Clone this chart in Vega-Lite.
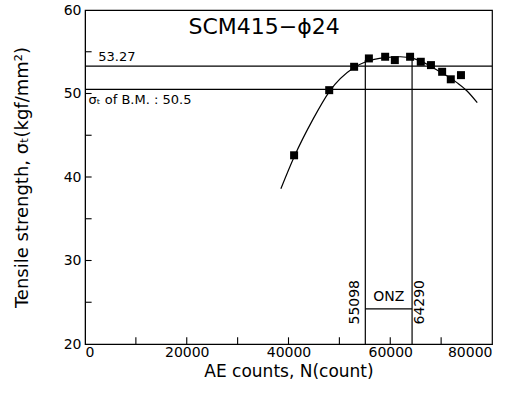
{
  "$schema": "https://vega.github.io/schema/vega-lite/v6.json",
  "width": 407,
  "height": 334,
  "autosize": "none",
  "padding": {"left": 85, "top": 10, "right": 26, "bottom": 55},
  "background": "white",
  "config": {
    "view": {"stroke": "black", "strokeWidth": 1.2},
    "font": "DejaVu Sans",
    "axis": {
      "grid": false,
      "ticks": false,
      "domainColor": "black",
      "labelColor": "black",
      "titleColor": "black",
      "labelFont": "DejaVu Sans",
      "titleFont": "DejaVu Sans",
      "labelFontSize": 14,
      "titleFontSize": 18,
      "titleFontWeight": "normal"
    }
  },
  "datasets": {
    "points": [
      {"x": 41100, "y": 42.6},
      {"x": 48000, "y": 50.4},
      {"x": 52900, "y": 53.2},
      {"x": 55800, "y": 54.2},
      {"x": 59000, "y": 54.4},
      {"x": 60900, "y": 54.0},
      {"x": 63900, "y": 54.4},
      {"x": 66000, "y": 53.8},
      {"x": 68000, "y": 53.4},
      {"x": 70200, "y": 52.6},
      {"x": 71900, "y": 51.7},
      {"x": 73900, "y": 52.2}
    ],
    "curve": [
      {"x": 38500, "y": 38.6},
      {"x": 41100, "y": 42.4},
      {"x": 44800, "y": 46.9},
      {"x": 48000, "y": 50.2},
      {"x": 52900, "y": 53.1},
      {"x": 55200, "y": 53.8},
      {"x": 59000, "y": 54.3},
      {"x": 62000, "y": 54.4},
      {"x": 64500, "y": 54.2},
      {"x": 69800, "y": 52.6},
      {"x": 73100, "y": 51.3},
      {"x": 75100, "y": 50.3},
      {"x": 77100, "y": 48.9}
    ],
    "hlines": [{"y": 53.27}, {"y": 50.5}],
    "vlines": [{"x": 55098, "y": 20, "y2": 54}, {"x": 64290, "y": 20, "y2": 54}],
    "onz": [{"x": 55098, "x2": 64290, "y": 24.2}],
    "xticks": [{"x": 10000}, {"x": 20000}, {"x": 30000}, {"x": 40000}, {"x": 50000}, {"x": 60000}, {"x": 70000}],
    "yticks": [{"y": 25}, {"y": 30}, {"y": 35}, {"y": 40}, {"y": 45}, {"y": 50}, {"y": 55}],
    "title": [{"x": 35200, "y": 58.0, "label": "SCM415−ϕ24"}],
    "notes": [
      {"x": 2600, "y": 54.4, "label": "53.27"},
      {"x": 700, "y": 49.2, "label": "σₜ of B.M. : 50.5"}
    ],
    "rot": [
      {"x": 53100, "y": 25.0, "label": "55098"},
      {"x": 65900, "y": 25.0, "label": "64290"}
    ],
    "onzlabel": [{"x": 59694, "y": 25.6, "label": "ONZ"}]
  },
  "layer": [
    {
      "data": {"name": "points"},
      "mark": {"type": "square", "size": 64, "color": "black", "opacity": 1, "filled": true},
      "encoding": {
        "x": {"field": "x", "type": "quantitative", "scale": {"domain": [0, 80000], "nice": false},
          "axis": {"values": [0, 20000, 40000, 60000, 80000], "title": "AE counts, N(count)", "format": "d", "labelPadding": 1, "titlePadding": 4, "titleFontSize": 17}},
        "y": {"field": "y", "type": "quantitative", "scale": {"domain": [20, 60], "nice": false, "zero": false},
          "axis": {"values": [20, 30, 40, 50, 60], "title": "Tensile strength, σₜ(kgf/mm²)", "labelPadding": 4, "titlePadding": 32}}
      }
    },
    {
      "data": {"name": "curve"},
      "mark": {"type": "line", "color": "black", "strokeWidth": 1.2, "interpolate": "monotone"},
      "encoding": {
        "x": {"field": "x", "type": "quantitative"},
        "y": {"field": "y", "type": "quantitative"}
      }
    },
    {
      "data": {"name": "hlines"},
      "mark": {"type": "rule", "color": "black", "strokeWidth": 1.2},
      "encoding": {"y": {"field": "y", "type": "quantitative"}}
    },
    {
      "data": {"name": "vlines"},
      "mark": {"type": "rule", "color": "black", "strokeWidth": 1.2},
      "encoding": {
        "x": {"field": "x", "type": "quantitative"},
        "y": {"field": "y", "type": "quantitative"},
        "y2": {"field": "y2"}
      }
    },
    {
      "data": {"name": "onz"},
      "mark": {"type": "rule", "color": "black", "strokeWidth": 1.2},
      "encoding": {
        "x": {"field": "x", "type": "quantitative"},
        "x2": {"field": "x2"},
        "y": {"field": "y", "type": "quantitative"}
      }
    },
    {
      "data": {"name": "xticks"},
      "mark": {"type": "rule", "color": "black", "strokeWidth": 1.1},
      "encoding": {
        "x": {"field": "x", "type": "quantitative"},
        "y": {"datum": 20},
        "y2": {"datum": 20.8}
      }
    },
    {
      "data": {"name": "yticks"},
      "mark": {"type": "rule", "color": "black", "strokeWidth": 1.1},
      "encoding": {
        "y": {"field": "y", "type": "quantitative"},
        "x": {"datum": 0},
        "x2": {"datum": 1300}
      }
    },
    {
      "data": {"name": "title"},
      "mark": {"type": "text", "fontSize": 22, "color": "black", "align": "center", "baseline": "middle"},
      "encoding": {
        "x": {"field": "x", "type": "quantitative"},
        "y": {"field": "y", "type": "quantitative"},
        "text": {"field": "label"}
      }
    },
    {
      "data": {"name": "notes"},
      "mark": {"type": "text", "fontSize": 13, "color": "black", "align": "left", "baseline": "middle"},
      "encoding": {
        "x": {"field": "x", "type": "quantitative"},
        "y": {"field": "y", "type": "quantitative"},
        "text": {"field": "label"}
      }
    },
    {
      "data": {"name": "rot"},
      "mark": {"type": "text", "fontSize": 14, "color": "black", "align": "center", "baseline": "middle", "angle": 270},
      "encoding": {
        "x": {"field": "x", "type": "quantitative"},
        "y": {"field": "y", "type": "quantitative"},
        "text": {"field": "label"}
      }
    },
    {
      "data": {"name": "onzlabel"},
      "mark": {"type": "text", "fontSize": 14, "color": "black", "align": "center", "baseline": "middle"},
      "encoding": {
        "x": {"field": "x", "type": "quantitative"},
        "y": {"field": "y", "type": "quantitative"},
        "text": {"field": "label"}
      }
    }
  ]
}
